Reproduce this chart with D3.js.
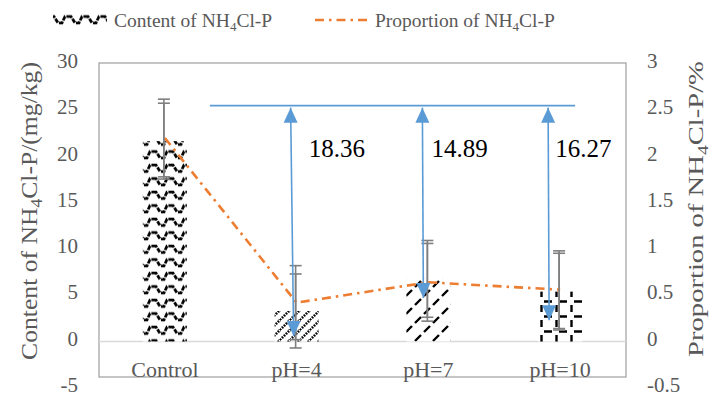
<!DOCTYPE html>
<html>
<head>
<meta charset="utf-8">
<script src="https://cdn.jsdelivr.net/npm/d3@7/dist/d3.min.js"></script>
<style>
  html, body { margin: 0; padding: 0; background: #fff; }
  svg { display: block; }
  svg text { font-family: "Liberation Serif", "Times New Roman", serif; }
</style>
</head>
<body>
<svg id="chart" width="710" height="396"></svg>
<script>
// NH4Cl-P content (bars, left axis) and proportion (line, right axis)
const categories = ["Control", "pH=4", "pH=7", "pH=10"];
const content = [21.66, 3.30, 6.77, 5.39];          // mg/kg
const contentErr = [4.1, 4.0, 4.15, 4.15];
const proportion = [2.20, 0.42, 0.64, 0.56];       // %
const proportionErr = [0.42, 0.40, 0.42, 0.42];
const patterns = ["wave", "upDiag", "dashDiag", "dashGrid"];

// Reduction relative to the control
const reductions = ["18.36", "14.89", "16.27"];
const reductionCats = ["pH=4", "pH=7", "pH=10"];
const arrowTop = 25.5;                 // level of the horizontal bracket
const arrowBottom = [0.6, 4.7, 2.3];   // where each downward arrow ends

const leftTicks = [-5, 0, 5, 10, 15, 20, 25, 30];
const rightTicks = [-0.5, 0, 0.5, 1, 1.5, 2, 2.5, 3];

const svg = d3.select("#chart");
const serif = "Liberation Serif, Times New Roman, serif";
const grey = "#595959";
const orange = "#ED7D31";
const blue = "#5B9BD5";

const plot = { left: 99, right: 626, top: 64, zero: 341.5 };
const x = d3.scaleBand().domain(categories).range([plot.left, plot.right]).padding(0);
const yL = d3.scaleLinear().domain([0, 30]).range([plot.zero, plot.top]);
const yR = d3.scaleLinear().domain([0, 3]).range([plot.zero, plot.top]);
const cx = c => x(c) + x.bandwidth() / 2;
const barW = 44;

// ---- fill patterns ----
const defs = svg.append("defs");
function pat(id, w, h, draw) {
  const p = defs.append("pattern").attr("id", id).attr("patternUnits", "userSpaceOnUse")
    .attr("width", w).attr("height", h);
  p.append("rect").attr("width", w).attr("height", h).attr("fill", "#fff");
  draw(p);
}
pat("wave", 17, 13.5, p => {
  p.append("path").attr("d", "M0,3 L3,3 L7,9.5 L11,9.5 L14,3 L17,3")
    .attr("fill", "none").attr("stroke", "#000").attr("stroke-width", 2.8)
    .attr("stroke-dasharray", "4.5,1.3");
});
pat("upDiag", 10, 10, p => {
  p.append("path").attr("d", "M-2,12 L12,-2 M-7,7 L7,-7 M3,17 L17,3")
    .attr("stroke", "#000").attr("stroke-width", 2.6).attr("stroke-dasharray", "1.6,1.2");
});
pat("dashDiag", 18, 18, p => {
  p.append("path").attr("d", "M1,17 L7,11 M10,8 L16,2 M-8,8 L-2,2 M10,26 L16,20")
    .attr("stroke", "#000").attr("stroke-width", 2.4);
});
pat("dashGrid", 15, 15, p => {
  p.append("path").attr("d", "M4,1.5 H12 M1.5,5 V12")
    .attr("stroke", "#000").attr("stroke-width", 2.4);
});

// ---- frame and zero line ----
svg.append("rect").attr("x", plot.left).attr("y", 63).attr("width", plot.right - plot.left)
  .attr("height", 377 - 63).attr("fill", "none").attr("stroke", "#a6a6a6").attr("stroke-width", 1.3);
svg.append("line").attr("x1", plot.left).attr("x2", plot.right)
  .attr("y1", yL(0)).attr("y2", yL(0)).attr("stroke", "#d9d9d9").attr("stroke-width", 1.3);

// ---- axes ----
const fmt = d => String(d);
const axL = svg.append("g").attr("transform", `translate(${plot.left - 21},-3)`)
  .call(d3.axisLeft(yL).tickValues(leftTicks).tickSize(0).tickPadding(0).tickFormat(fmt));
const axR = svg.append("g").attr("transform", `translate(${plot.right + 21},-3)`)
  .call(d3.axisRight(yR).tickValues(rightTicks).tickSize(0).tickPadding(0).tickFormat(fmt));
[axL, axR].forEach(g => {
  g.attr("font-family", serif);
  g.select(".domain").remove();
  g.selectAll("text").attr("fill", grey).attr("font-size", 21).attr("font-family", serif);
});
const axX = svg.append("g").attr("transform", `translate(0,${yL(0) + 16})`)
  .call(d3.axisBottom(x).tickSize(0).tickPadding(0));
axX.attr("font-family", serif);
axX.select(".domain").remove();
axX.selectAll("text").attr("fill", grey).attr("font-size", 22)
  .attr("font-family", serif).attr("dy", "0.9em");

// ---- axis titles (stretched along the text to span the plot height) ----
function title(tx, ty, size, span, parts) {
  const t = svg.append("text").attr("text-anchor", "middle").attr("fill", grey)
    .attr("font-size", size).attr("font-family", serif);
  parts.forEach(([s, sub], k) => {
    const sp = t.append("tspan").text(s);
    if (sub) sp.attr("font-size", size * 0.68).attr("dy", 5);
    else if (k > 0) sp.attr("dy", -5);
  });
  const len = t.node().getComputedTextLength();
  t.attr("transform", `translate(${tx},${ty}) rotate(-90) scale(${span / len},1)`);
}
title(37, 211, 24, 298, [["Content of NH"], ["4", true], ["Cl-P/(mg/kg)"]]);
title(703, 209, 22, 296, [["Proportion of NH"], ["4", true], ["Cl-P/%"]]);

// ---- bars ----
svg.append("g").selectAll("rect").data(categories).join("rect")
  .attr("x", c => cx(c) - barW / 2).attr("width", barW)
  .attr("y", (c, i) => yL(content[i])).attr("height", (c, i) => yL(0) - yL(content[i]))
  .attr("fill", (c, i) => `url(#${patterns[i]})`);

// ---- error bars ----
function errBars(vals, errs, sc) {
  const g = svg.append("g").attr("stroke", "#7f7f7f").attr("stroke-width", 1.6);
  categories.forEach((c, i) => {
    const X = cx(c) - 1, hi = sc(vals[i] + errs[i]), lo = sc(vals[i] - errs[i]);
    g.append("line").attr("x1", X).attr("x2", X).attr("y1", hi).attr("y2", lo);
    [hi, lo].forEach(yy => g.append("line").attr("x1", X - 6).attr("x2", X + 6).attr("y1", yy).attr("y2", yy));
  });
}
errBars(content, contentErr, yL);

// ---- proportion line ----
svg.append("path").datum(proportion)
  .attr("d", d3.line().x((d, i) => cx(categories[i])).y(d => yR(d)))
  .attr("fill", "none").attr("stroke", orange).attr("stroke-width", 2.6)
  .attr("stroke-dasharray", "9,5,2.5,5");
errBars(proportion, proportionErr, yR);

// ---- reduction annotations ----
const ann = svg.append("g");
const arrowOff = [-6, -6, -12];
const labelOff = [18, 9, 7];
const bracketStart = cx("Control") + 45, bracketEnd = cx("pH=10") + 15;
ann.append("line").attr("x1", bracketStart).attr("x2", bracketEnd)
  .attr("y1", yL(arrowTop)).attr("y2", yL(arrowTop)).attr("stroke", blue).attr("stroke-width", 1.6);
function head(xx, tipY, dir) {
  const h = 15, w = 7;
  ann.append("path")
    .attr("d", `M${xx},${tipY} L${xx - w},${tipY + dir * h} L${xx + w},${tipY + dir * h} Z`)
    .attr("fill", blue);
}
reductionCats.forEach((c, i) => {
  const xt = cx(c) + arrowOff[i], xb = xt + (i === 0 ? 3 : 1);
  const top = yL(arrowTop) + 2, bot = yL(arrowBottom[i]);
  ann.append("line").attr("x1", xt).attr("x2", xb).attr("y1", top).attr("y2", bot)
    .attr("stroke", blue).attr("stroke-width", 1.6);
  head(xt, top, 1);
  head(xb, bot, -1);
  ann.append("text").attr("x", xt + labelOff[i]).attr("y", 157)
    .attr("font-size", 25).attr("font-family", serif).attr("fill", "#000").text(reductions[i]);
});

// ---- legend ----
const lg = svg.append("g");
lg.append("rect").attr("x", 53).attr("y", 13).attr("width", 54).attr("height", 12)
  .attr("fill", "url(#wave)");
function legendText(tx, label) {
  lg.append("text").attr("x", tx).attr("y", 27).attr("font-size", 19.5).attr("fill", grey)
    .attr("font-family", serif)
    .call(t => {
      t.append("tspan").text(label);
      t.append("tspan").text("4").attr("font-size", 13).attr("dy", 4);
      t.append("tspan").text("Cl-P").attr("dy", -4);
    });
}
legendText(114, "Content of NH");
lg.append("line").attr("x1", 315).attr("x2", 368).attr("y1", 20).attr("y2", 20)
  .attr("stroke", orange).attr("stroke-width", 2.6).attr("stroke-dasharray", "9,5,2.5,5");
legendText(375, "Proportion of NH");
</script>
</body>
</html>
